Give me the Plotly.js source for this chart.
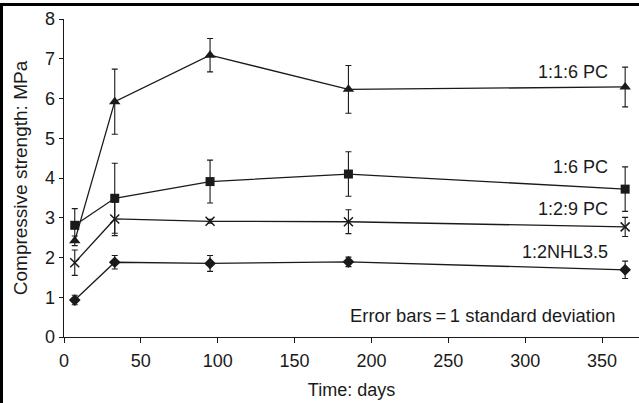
<!DOCTYPE html>
<html>
<head>
<meta charset="utf-8">
<script src="https://cdn.plot.ly/plotly-3.0.1.min.js"></script>
<style>
  html, body { margin: 0; padding: 0; background: #fff; }
  #chart { width: 639px; height: 403px; }
</style>
</head>
<body>
<div id="chart"></div>
<script>
// ---- data ----
const days = [7, 33, 95, 185, 365];

const pc116 = [2.42, 5.92, 7.09, 6.23, 6.29];
const pc116Err = [0.12, 0.82, 0.42, 0.60, 0.50];

const pc16 = [2.81, 3.49, 3.91, 4.10, 3.72];
const pc16Err = [0.42, 0.88, 0.54, 0.56, 0.56];

const pc129 = [1.87, 2.97, 2.91, 2.90, 2.77];
const pc129Err = [0.32, 0.42, 0.05, 0.30, 0.24];

const nhl = [0.93, 1.88, 1.85, 1.89, 1.69];
const nhlErr = [0.12, 0.17, 0.20, 0.12, 0.22];

const seriesNames = ['1:1:6 PC', '1:6 PC', '1:2:9 PC', '1:2NHL3.5'];
const labelY = [6.67, 4.28, 3.22, 2.14];
const noteText = 'Error bars\u2009=\u20091 standard deviation';

const xTickVals = [0, 50, 100, 150, 200, 250, 300, 350];
const yTickVals = [0, 1, 2, 3, 4, 5, 6, 7, 8];

// ---- styling ----
const ink = '#1a1a1a';
const font = 'Liberation Sans, Arial, Helvetica, sans-serif';

function series(y, err, symbol, size, name) {
  const isThin = symbol.indexOf('thin') >= 0;
  return {
    x: days, y: y, name: name, type: 'scatter', mode: 'lines+markers',
    line: { color: ink, width: 1.3 },
    marker: {
      symbol: symbol, size: size, color: ink,
      line: { color: ink, width: isThin ? 1.5 : 0 }
    },
    error_y: { type: 'data', array: err, visible: true, color: ink, thickness: 1.1, width: 3 },
    showlegend: false, cliponaxis: false
  };
}

const data = [
  series(pc116, pc116Err, 'triangle-up', 10, seriesNames[0]),
  series(pc16, pc16Err, 'square', 9, seriesNames[1]),
  series(pc129, pc129Err, 'x-thin-open', 9, seriesNames[2]),
  series(nhl, nhlErr, 'diamond', 9, seriesNames[3])
];

const annotations = seriesNames.map((t, i) => ({
  text: t, x: 355, y: labelY[i], xref: 'x', yref: 'y',
  xanchor: 'right', yanchor: 'middle', showarrow: false,
  font: { family: font, size: 18, color: ink }
}));
annotations.push({
  text: noteText, x: 272.6, y: 0.53, xref: 'x', yref: 'y',
  xanchor: 'center', yanchor: 'middle', showarrow: false,
  font: { family: font, size: 18.4, color: ink }
});

const plotW = 639 - 64, plotH = 337 - 19;
const shapes = [
  { type: 'line', xref: 'paper', yref: 'paper',
    x0: -64 / plotW, x1: 1, y0: (337 - 4.5) / plotH, y1: (337 - 4.5) / plotH,
    line: { color: '#000', width: 3 } },
  { type: 'line', xref: 'paper', yref: 'paper',
    x0: (1.5 - 64) / plotW, x1: (1.5 - 64) / plotW,
    y0: -66 / plotH, y1: (337 - 3) / plotH,
    line: { color: '#000', width: 3 } }
];

const layout = {
  width: 639, height: 403,
  margin: { l: 64, r: 0, t: 19, b: 66 },
  paper_bgcolor: '#fff', plot_bgcolor: '#fff',
  font: { family: font, size: 18, color: ink },
  showlegend: false,
  xaxis: {
    range: [0, 374], tickvals: xTickVals, ticks: 'outside', ticklen: 5,
    tickwidth: 1, tickcolor: ink, showline: true, linecolor: ink, linewidth: 1.3,
    showgrid: false, zeroline: false, ticklabelstandoff: 2,
    tickfont: { family: font, size: 18, color: ink },
    title: { text: 'Time: days', font: { family: font, size: 18, color: ink }, standoff: 13 }
  },
  yaxis: {
    range: [0, 8], tickvals: yTickVals, ticks: 'outside', ticklen: 4,
    tickwidth: 1, tickcolor: ink, showline: true, linecolor: ink, linewidth: 1.3,
    showgrid: false, zeroline: false,
    tickfont: { family: font, size: 18, color: ink },
    title: { text: 'Compressive strength: MPa', font: { family: font, size: 19, color: ink }, standoff: 12 }
  },
  annotations: annotations,
  shapes: shapes
};

Plotly.newPlot('chart', data, layout, { staticPlot: true, displayModeBar: false });
</script>
</body>
</html>
